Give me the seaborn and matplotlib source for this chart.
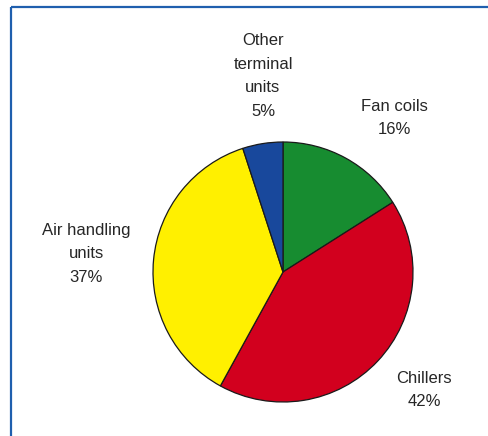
import matplotlib
matplotlib.use("Agg")
import matplotlib.pyplot as plt
import seaborn as sns

sns.set_theme(style="white")
plt.rcParams['font.family'] = ['Liberation Sans', 'DejaVu Sans']

# data
labels = ['Fan coils', 'Chillers', 'Air handling\nunits', 'Other\nterminal\nunits']
shares = [16, 42, 37, 5]
colors = ['#178c30', '#d2001e', '#fff000', '#18489c']

# label placement (pixel space of the 489x436 canvas, block centres)
label_xy = [(394, 318), (424, 46), (86, 182), (263, 360)]

fig = plt.figure(figsize=(4.89, 4.36), dpi=100)
ax = fig.add_axes([0, 0, 1, 1])

ax.pie(shares, colors=colors, startangle=90, counterclock=False,
       center=(283, 164), radius=130, frame=True,
       wedgeprops=dict(edgecolor='#1a1a1a', linewidth=0.9))
ax.set_xlim(0, 489)
ax.set_ylim(0, 436)
ax.set_aspect('equal')
ax.axis('off')

for lab, val, (x, y) in zip(labels, shares, label_xy):
    ax.text(x, y, f'{lab}\n{val}%', ha='center', va='center', fontsize=12,
            color='#262626', linespacing=1.7)

# blue frame lines (top and left)
ax.plot([11, 489], [429, 429], color='#1f5fae', lw=1.6, solid_capstyle='butt')
ax.plot([11, 11], [0, 429], color='#1f5fae', lw=1.6, solid_capstyle='butt')

fig.savefig('out.png', dpi=100)
